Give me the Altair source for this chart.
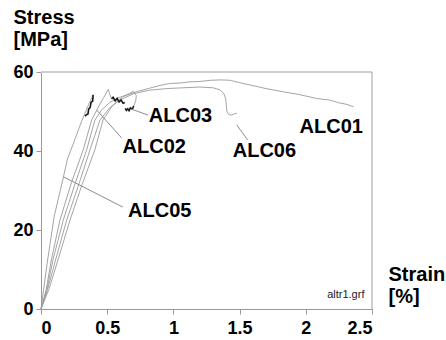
import altair as alt
import pandas as pd

# Stress-strain curves of the ALC specimens (strain in %, stress in MPa)
alc01_strain = [0, 0.03, 0.06, 0.128, 0.219, 0.31, 0.407, 0.468, 0.54, 0.62, 0.72, 0.82, 0.90, 0.97, 1.05, 1.12, 1.20, 1.28, 1.36, 1.43, 1.50, 1.58, 1.70, 1.83, 1.95, 2.08, 2.18, 2.25, 2.31, 2.36]
alc01_stress = [0, 2.5, 5, 12.4, 22.5, 31.5, 40.3, 47.8, 51.5, 53.8, 55.0, 55.9, 56.6, 57.1, 57.2, 57.5, 57.6, 57.9, 58.0, 57.9, 57.3, 56.7, 55.8, 55.0, 54.3, 53.3, 52.9, 52.2, 51.8, 51.2]

alc06_strain = [0, 0.05, 0.11, 0.194, 0.29, 0.37, 0.445, 0.52, 0.60, 0.70, 0.82, 0.95, 1.07, 1.20, 1.30, 1.35, 1.38, 1.395, 1.40, 1.405, 1.42, 1.44, 1.46, 1.48]
alc06_stress = [0, 5, 12.4, 22.5, 32, 40.3, 47.8, 51.0, 53.0, 54.5, 55.4, 55.8, 56.0, 56.2, 56.0, 55.5, 54.6, 53.2, 51.5, 49.9, 49.2, 49.1, 49.4, 49.6]

alc03_strain = [0, 0.045, 0.09, 0.168, 0.26, 0.345, 0.407, 0.46, 0.52, 0.58, 0.63, 0.67, 0.70, 0.72, 0.715, 0.70]
alc03_stress = [0, 5, 12.4, 22.5, 32, 40.3, 47.8, 50.5, 52.3, 53.4, 54.0, 54.6, 55.1, 54.0, 52.6, 51.4]
alc03_tail_strain = [0.70, 0.69, 0.675, 0.665, 0.655, 0.645, 0.635]
alc03_tail_stress = [51.4, 50.6, 50.9, 50.2, 50.7, 50.3, 50.8]

alc02_strain = [0, 0.04, 0.078, 0.143, 0.23, 0.319, 0.382, 0.41, 0.44, 0.47, 0.49, 0.508, 0.52, 0.533]
alc02_stress = [0, 5, 12.4, 22.5, 32, 40.3, 47.8, 49.6, 51.6, 53.3, 54.5, 55.6, 54.3, 53.2]
alc02_tail_strain = [0.533, 0.545, 0.56, 0.575, 0.59, 0.605, 0.62, 0.633]
alc02_tail_stress = [53.2, 53.6, 52.7, 53.3, 52.4, 52.9, 52.1, 52.3]

alc05_strain = [0, 0.02, 0.05, 0.10, 0.17, 0.20, 0.24, 0.31, 0.36, 0.394]
alc05_stress = [0, 5, 12.4, 23.5, 33.5, 38.0, 41.5, 47.8, 51.8, 54.2]
alc05_tail_strain = [0.394, 0.39, 0.378, 0.372, 0.36, 0.355, 0.343, 0.333]
alc05_tail_stress = [54.2, 52.6, 52.3, 51.1, 50.6, 49.4, 49.2, 48.8]

# Specimen labels and their leader lines
label_names = ["ALC01", "ALC02", "ALC03", "ALC05", "ALC06"]
label_strain = [1.953, 0.616, 0.814, 0.658, 1.448]
label_stress = [44.6, 39.6, 47.3, 23.4, 38.6]

leader_x1 = [0.42, 0.684, 0.168, 1.478]
leader_y1 = [50.4, 50.6, 33.5, 46.6]
leader_x2 = [0.609, 0.807, 0.618, 1.561]
leader_y2 = [43.3, 49.1, 25.8, 42.8]

rows = []


def add(name, kind, xs, ys):
    for i, (a, b) in enumerate(zip(xs, ys)):
        rows.append({"series": name, "kind": kind, "i": i, "strain": a, "stress": b})


add("ALC01", "curve", alc01_strain, alc01_stress)
add("ALC06", "curve", alc06_strain, alc06_stress)
add("ALC03", "curve", alc03_strain, alc03_stress)
add("ALC03 end", "dark", alc03_tail_strain, alc03_tail_stress)
add("ALC02", "curve", alc02_strain, alc02_stress)
add("ALC02 end", "dark", alc02_tail_strain, alc02_tail_stress)
add("ALC05", "curve", alc05_strain, alc05_stress)
add("ALC05 end", "dark", alc05_tail_strain, alc05_tail_stress)
curves = pd.DataFrame(rows)

labels = pd.DataFrame({"name": label_names, "strain": label_strain, "stress": label_stress})
leaders = pd.DataFrame({"x1": leader_x1, "y1": leader_y1, "x2": leader_x2, "y2": leader_y2})
note = pd.DataFrame({"t": ["altr1.grf"], "strain": [2.443], "stress": [2.8]})

FONT = "Liberation Sans"

x_scale = alt.Scale(domain=[0, 2.5], nice=False)
y_scale = alt.Scale(domain=[0, 60], nice=False)

x_axis = alt.Axis(
    values=[0, 0.5, 1, 1.5, 2, 2.5], format="~g",
    title=["Strain", "[%]"], titleAngle=0, titleAlign="left", titleBaseline="alphabetic",
    titleX=347, titleY=-29, titleLineHeight=22,
)
y_axis = alt.Axis(
    values=[0, 20, 40, 60], format="d",
    title=["Stress", "[MPa]"], titleAngle=0, titleAlign="left", titleBaseline="alphabetic",
    titleX=-28, titleY=-49, titleLineHeight=22,
)

lines = alt.Chart(curves).mark_line(interpolate="linear").encode(
    x=alt.X("strain:Q", scale=x_scale, axis=x_axis),
    y=alt.Y("stress:Q", scale=y_scale, axis=y_axis),
    detail="series:N",
    order="i:Q",
    color=alt.Color("kind:N", scale=alt.Scale(domain=["curve", "dark"], range=["#9a9a9a", "#1a1a1a"]), legend=None),
    strokeWidth=alt.StrokeWidth("kind:N", scale=alt.Scale(domain=["curve", "dark"], range=[0.9, 1.6]), legend=None),
)

leader_rules = alt.Chart(leaders).mark_rule(color="#8c8c8c", strokeWidth=1).encode(
    x="x1:Q", y="y1:Q", x2="x2:Q", y2="y2:Q"
)

label_text = alt.Chart(labels).mark_text(
    font=FONT, fontSize=20, fontWeight="bold", align="left", baseline="alphabetic", color="black"
).encode(x="strain:Q", y="stress:Q", text="name:N")

note_text = alt.Chart(note).mark_text(
    font=FONT, fontSize=11, align="right", baseline="alphabetic", color="#222222"
).encode(x="strain:Q", y="stress:Q", text="t:N")

frame_top = alt.Chart(pd.DataFrame({"v": [60]})).mark_rule(color="#cfcfcf", strokeWidth=2).encode(y="v:Q")
frame_right = alt.Chart(pd.DataFrame({"v": [2.5]})).mark_rule(color="#a0a0a0", strokeWidth=1).encode(x="v:Q")

chart = alt.layer(frame_top, frame_right, lines, leader_rules, label_text, note_text).properties(
    width=331, height=237,
    autosize=alt.AutoSizeParams(type="none"),
    padding={"left": 41, "top": 72, "right": 74, "bottom": 31},
    background="white",
).configure_view(stroke=None).configure_axis(
    domainColor="#999999", tickColor="#999999", tickSize=5, grid=False,
    labelFont=FONT, labelFontSize=18, labelFontWeight="bold", labelColor="black",
    titleFont=FONT, titleFontSize=20, titleFontWeight="bold", titleColor="black",
    labelPadding=3,
).configure_axisX(labelPadding=5)

chart.save("out.html", embed_options={"renderer": "svg", "actions": False})
